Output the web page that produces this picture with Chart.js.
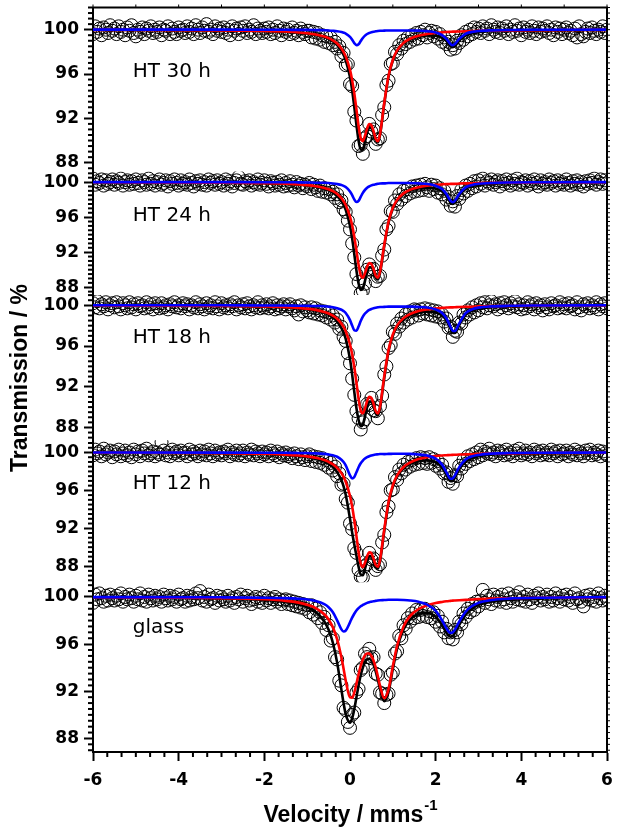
<!DOCTYPE html>
<html>
<head>
<meta charset="utf-8">
<script src="https://cdn.jsdelivr.net/npm/chart.js@4"></script>
<style>
  html, body { margin: 0; padding: 0; background: #fff; }
  #wrap { width: 619px; height: 829px; position: relative; }
</style>
</head>
<body>
<div id="wrap"><canvas id="moessbauer"></canvas></div>
<script>
// Geschwindigkeit der Messkanäle (mm/s)
const velocity = [
  -6, -5.95, -5.9, -5.85, -5.8, -5.75, -5.7, -5.65, -5.6, -5.55,
  -5.5, -5.45, -5.4, -5.35, -5.3, -5.25, -5.2, -5.15, -5.1, -5.05,
  -5, -4.95, -4.9, -4.85, -4.8, -4.75, -4.7, -4.65, -4.6, -4.55,
  -4.5, -4.45, -4.4, -4.35, -4.3, -4.25, -4.2, -4.15, -4.1, -4.05,
  -4, -3.95, -3.9, -3.85, -3.8, -3.75, -3.7, -3.65, -3.6, -3.55,
  -3.5, -3.45, -3.4, -3.35, -3.3, -3.25, -3.2, -3.15, -3.1, -3.05,
  -3, -2.95, -2.9, -2.85, -2.8, -2.75, -2.7, -2.65, -2.6, -2.55,
  -2.5, -2.45, -2.4, -2.35, -2.3, -2.25, -2.2, -2.15, -2.1, -2.05,
  -2, -1.95, -1.9, -1.85, -1.8, -1.75, -1.7, -1.65, -1.6, -1.55,
  -1.5, -1.45, -1.4, -1.35, -1.3, -1.25, -1.2, -1.15, -1.1, -1.05,
  -1, -0.95, -0.9, -0.85, -0.8, -0.75, -0.7, -0.65, -0.6, -0.55,
  -0.5, -0.45, -0.4, -0.35, -0.3, -0.25, -0.2, -0.15, -0.1, -0.05,
  0, 0.05, 0.1, 0.15, 0.2, 0.25, 0.3, 0.35, 0.4, 0.45,
  0.5, 0.55, 0.6, 0.65, 0.7, 0.75, 0.8, 0.85, 0.9, 0.95,
  1, 1.05, 1.1, 1.15, 1.2, 1.25, 1.3, 1.35, 1.4, 1.45,
  1.5, 1.55, 1.6, 1.65, 1.7, 1.75, 1.8, 1.85, 1.9, 1.95,
  2, 2.05, 2.1, 2.15, 2.2, 2.25, 2.3, 2.35, 2.4, 2.45,
  2.5, 2.55, 2.6, 2.65, 2.7, 2.75, 2.8, 2.85, 2.9, 2.95,
  3, 3.05, 3.1, 3.15, 3.2, 3.25, 3.3, 3.35, 3.4, 3.45,
  3.5, 3.55, 3.6, 3.65, 3.7, 3.75, 3.8, 3.85, 3.9, 3.95,
  4, 4.05, 4.1, 4.15, 4.2, 4.25, 4.3, 4.35, 4.4, 4.45,
  4.5, 4.55, 4.6, 4.65, 4.7, 4.75, 4.8, 4.85, 4.9, 4.95,
  5, 5.05, 5.1, 5.15, 5.2, 5.25, 5.3, 5.35, 5.4, 5.45,
  5.5, 5.55, 5.6, 5.65, 5.7, 5.75, 5.8, 5.85, 5.9, 5.95,
  6
];

// Messpunkte (Transmission in %)
const transHT30 = [
  99.6, 100.3, 99.8, 100.1, 99.5, 100.2, 100.0, 99.7, 100.4, 99.9,
  100.1, 99.6, 100.3, 99.8, 100.0, 99.5, 100.2, 99.9, 100.4, 99.7,
  99.4, 100.0, 99.8, 100.2, 99.6, 100.1, 99.9, 100.3, 99.7, 100.0,
  99.8, 100.2, 99.5, 100.0, 99.9, 100.3, 99.6, 100.1, 99.8, 99.6,
  100.2, 99.9, 100.0, 99.7, 100.3, 99.8, 100.1, 99.6, 100.4, 100.0,
  99.7, 100.2, 99.9, 100.5, 99.8, 100.0, 99.6, 100.3, 99.9, 100.1,
  99.8, 100.2, 99.7, 100.0, 99.5, 100.3, 99.9, 100.1, 99.6, 100.2,
  99.9, 100.3, 99.7, 100.0, 99.8, 100.4, 99.6, 100.1, 99.9, 99.7,
  100.1, 99.8, 100.2, 99.6, 100.0, 99.7, 100.3, 99.9, 99.5, 100.1,
  99.8, 100.0, 99.6, 100.2, 99.7, 99.9, 99.5, 100.1, 99.8, 99.6,
  99.9,
  99.9, 99.3, 99.8, 99.2, 99.7, 99.1, 99.5, 98.9, 99.4, 98.8,
  99.3, 98.6, 98.9, 98.3, 98.5, 97.6, 97.9, 96.8, 96.9, 95.1,
  94.9, 92.6, 91.8, 89.5, 89.6, 88.8, 90.2, 90.4, 91.5, 90.8,
  91.0, 89.7, 90.1, 90.2, 92.3, 93.0, 95.0, 95.4, 96.9, 97.0,
  98.0, 97.8, 98.6, 98.3, 99.0, 98.7, 99.3, 98.9, 99.5, 99.1,
  99.7, 99.2, 99.8, 99.5, 100.0, 99.3, 99.7, 99.9, 99.4, 99.8,
  99.2, 99.6, 98.9, 99.3, 98.7, 98.9, 98.2, 98.6, 98.3, 99.0,
  98.8, 99.5, 99.1, 99.8, 99.4, 100.0, 99.6, 100.2, 99.8, 100.1,
  99.7, 100.3, 99.9, 100.1, 99.6, 100.4, 100.0, 99.8, 100.2, 99.7,
  100.1, 99.9, 100.3, 99.6, 100.0, 99.8, 100.4, 99.9, 100.1, 99.5,
  100.2, 99.8, 100.0, 99.7, 100.3, 99.9, 99.6, 100.2, 99.8, 100.1,
  99.9, 100.3, 99.7, 100.0, 99.5, 100.2, 99.8, 100.1, 99.6, 100.0,
  100.2, 99.7, 99.9, 99.5, 100.1, 99.3, 100.3, 99.6, 99.4, 99.8,
  100.1, 99.7, 100.2, 99.9, 99.6, 100.0, 99.8, 100.3, 99.7, 100.0
];
const transHT24 = [
  100.4, 99.7, 100.1, 99.9, 100.3, 99.6, 100.2, 99.8, 100.0, 100.3,
  99.7, 100.1, 99.9, 100.4, 99.6, 100.0, 100.2, 99.7, 100.1, 99.8,
  100.3, 99.9, 99.6, 100.2, 100.0, 99.7, 100.4, 99.8, 100.1, 99.6,
  100.0, 100.3, 99.7, 99.9, 100.2, 99.5, 100.1, 99.8, 100.3, 99.9,
  99.6, 100.2, 99.8, 100.0, 99.7, 100.3, 99.9, 99.5, 100.1, 99.8,
  100.2, 99.7, 100.0, 99.6, 100.3, 99.9, 100.1, 99.7, 100.2, 99.8,
  100.0, 99.6, 100.3, 99.8, 100.1, 99.5, 99.9, 100.2, 100.6, 99.8,
  99.7, 100.1, 99.9, 100.2, 99.6, 100.0, 99.8, 100.3, 99.7, 99.9,
  100.2, 99.8, 99.5, 100.1, 99.9, 99.6, 100.0, 99.7, 100.2, 99.5,
  99.9, 99.6, 100.1, 99.7, 99.4, 100.0, 99.6, 99.8, 99.3, 99.7,
  99.5,
  99.9, 99.2, 99.7, 99.4, 99.0, 99.6, 98.9, 99.3, 98.8, 99.2,
  98.6, 98.9, 98.2, 98.6, 97.7, 97.9, 96.9, 96.6, 95.6, 94.6,
  93.0, 91.4, 89.5, 88.6, 87.3, 87.6, 88.4, 90.0, 90.6, 90.0,
  90.1, 88.7, 89.2, 89.3, 91.6, 92.3, 94.6, 95.0, 96.7, 96.6,
  97.9, 97.5, 98.6, 98.0, 99.0, 98.4, 99.2, 98.7, 99.5, 98.9,
  99.6, 99.0, 99.7, 99.1, 99.8, 99.4, 99.0, 99.7, 99.2, 99.6,
  98.8, 99.3, 98.6, 99.0, 98.0, 98.3, 97.3, 97.8, 97.2, 98.4,
  98.1, 99.1, 98.7, 99.6, 99.0, 99.8, 99.3, 100.1, 99.5, 100.2,
  99.8, 100.4, 99.6, 100.1, 99.9, 100.3, 99.7, 100.0, 100.2, 99.5,
  100.1, 99.8, 100.3, 99.9, 99.6, 100.2, 99.8, 100.4, 99.7, 100.0,
  99.9, 100.2, 99.6, 100.1, 99.8, 100.3, 99.9, 99.5, 100.2, 99.8,
  100.0, 99.7, 100.3, 99.9, 100.1, 99.6, 100.2, 99.8, 100.0, 99.7,
  100.3, 99.9, 99.6, 100.1, 99.8, 100.2, 99.7, 100.0, 99.5, 100.1,
  99.8, 100.2, 99.9, 100.4, 99.7, 100.0, 100.3, 99.8, 100.2, 99.9
];
const transHT18 = [
  100.2, 99.8, 100.4, 99.7, 100.1, 99.9, 100.3, 99.6, 100.0, 100.2,
  99.8, 100.3, 99.9, 99.6, 100.2, 100.0, 99.7, 100.3, 99.8, 100.1,
  99.6, 100.2, 99.9, 100.0, 99.7, 100.3, 99.8, 100.1, 99.6, 100.2,
  99.9, 99.7, 100.2, 99.8, 100.0, 99.6, 100.1, 99.9, 100.3, 99.8,
  100.0, 99.7, 100.2, 99.9, 100.1, 99.6, 100.0, 99.8, 100.3, 99.7,
  100.1, 99.9, 99.6, 100.2, 99.8, 100.0, 99.7, 100.3, 99.9, 99.6,
  100.2, 99.8, 100.0, 99.7, 100.1, 99.9, 100.3, 99.6, 100.0, 99.8,
  100.1, 99.7, 100.2, 99.9, 99.6, 100.0, 99.8, 100.3, 99.7, 100.0,
  99.8, 100.1, 99.7, 99.9, 100.2, 99.6, 100.0, 99.7, 99.9, 100.1,
  99.6, 99.9, 100.1, 99.7, 99.5, 99.9, 99.1, 100.0, 99.4, 99.8,
  99.5,
  99.3, 99.8, 99.2, 99.7, 99.1, 99.5, 99.0, 99.4, 98.8, 99.3,
  98.6, 99.0, 98.3, 98.6, 97.7, 97.9, 96.9, 96.5, 95.3, 94.3,
  92.8, 91.2, 89.6, 88.9, 87.8, 88.5, 88.8, 90.3, 90.2, 90.9,
  89.7, 89.6, 88.9, 90.1, 91.1, 93.2, 94.0, 95.8, 96.1, 97.4,
  97.2, 98.2, 97.9, 98.7, 98.3, 99.1, 98.6, 99.4, 98.8, 99.6,
  99.5, 99.0, 99.6, 99.2, 99.7, 99.1, 99.6, 99.0, 99.5, 98.9,
  99.4, 98.8, 99.1, 98.4, 98.7, 97.8, 97.9, 96.9, 97.5, 97.4,
  98.3, 98.2, 99.1, 98.8, 99.5, 99.1, 99.8, 99.3, 100.0, 99.5,
  100.2, 99.8, 100.3, 99.7, 100.0, 100.4, 99.9, 100.1, 99.6, 100.2,
  99.8, 100.3, 100.0, 99.7, 100.2, 99.9, 100.4, 99.8, 100.1, 99.6,
  100.0, 99.7, 100.3, 99.9, 100.1, 99.6, 100.2, 99.8, 100.0, 99.5,
  100.1, 99.8, 99.6, 100.2, 99.9, 100.0, 99.7, 100.3, 99.8, 100.1,
  99.7, 100.2, 99.9, 100.0, 99.6, 100.3, 99.8, 99.5, 100.1, 99.9,
  100.2, 99.7, 100.0, 99.8, 100.3, 99.6, 100.1, 99.9, 100.2, 99.7
];
const transHT12 = [
  99.7, 100.3, 99.9, 100.1, 99.6, 100.4, 99.8, 100.0, 100.2, 99.5,
  100.1, 99.8, 100.3, 99.6, 99.9, 100.2, 99.7, 100.0, 99.5, 100.3,
  99.8, 100.1, 99.6, 100.2, 99.9, 100.4, 99.7, 99.9, 100.1, 99.6,
  100.0, 99.8, 101.1, 100.2, 99.7, 100.0, 99.6, 100.3, 99.9, 100.1,
  99.7, 100.2, 99.9, 100.0, 99.6, 100.3, 99.8, 100.1, 99.9, 99.6,
  100.2, 99.8, 100.1, 99.7, 100.3, 99.9, 99.6, 100.2, 99.8, 100.0,
  99.7, 100.1, 99.9, 100.3, 99.6, 100.0, 99.8, 100.2, 99.7, 99.9,
  100.2, 99.6, 100.0, 99.8, 100.3, 99.7, 100.1, 99.9, 99.6, 100.1,
  99.8, 100.0, 99.6, 100.2, 99.9, 99.7, 100.1, 99.5, 99.9, 99.7,
  100.0, 99.6, 99.8, 99.4, 99.9, 99.6, 99.3, 99.8, 99.5, 99.2,
  99.6,
  99.8, 99.1, 99.6, 99.0, 99.5, 98.9, 99.4, 98.7, 99.2, 98.4,
  98.9, 98.1, 98.5, 97.5, 97.8, 96.6, 96.7, 95.1, 94.7, 92.5,
  91.9, 89.9, 89.4, 87.6, 86.9, 86.8, 88.0, 88.2, 89.4, 88.7,
  88.8, 87.6, 88.0, 88.2, 90.5, 91.3, 93.7, 94.3, 96.0, 96.1,
  97.4, 97.1, 98.2, 97.8, 98.7, 98.2, 99.0, 98.5, 99.2, 98.7,
  99.4, 98.8, 99.5, 98.9, 99.4, 98.8, 99.5, 98.9, 99.3, 98.6,
  99.1, 98.3, 98.7, 97.8, 97.9, 96.9, 97.3, 96.7, 97.6, 97.5,
  98.6, 98.3, 99.2, 98.8, 99.6, 99.1, 99.8, 99.3, 100.0, 99.5,
  100.3, 99.7, 100.1, 99.9, 100.4, 99.8, 100.0, 99.6, 100.2, 99.9,
  100.1, 99.7, 100.3, 99.8, 100.0, 99.6, 100.2, 99.9, 100.4, 99.7,
  99.9, 100.2, 99.8, 100.0, 99.6, 100.3, 99.9, 100.1, 99.7, 100.2,
  99.8, 100.0, 99.7, 100.3, 99.9, 100.1, 99.6, 100.2, 99.8, 99.9,
  100.2, 99.6, 100.0, 99.8, 100.3, 99.7, 100.1, 99.9, 99.6, 100.2,
  99.9, 100.3, 99.7, 100.0, 99.8, 100.2, 99.6, 100.1, 99.9, 99.7
];
const transGlass = [
  99.5, 100.2, 99.8, 100.3, 99.9, 99.6, 100.1, 99.7, 100.2, 99.9,
  99.7, 100.1, 99.8, 100.3, 99.6, 100.0, 99.8, 100.2, 99.9, 99.6,
  100.1, 99.8, 100.3, 99.7, 100.0, 99.6, 100.2, 99.9, 99.7, 100.1,
  99.8, 100.0, 99.6, 100.2, 99.9, 99.7, 100.1, 99.8, 100.0, 99.6,
  100.2, 99.8, 99.9, 99.6, 100.1, 99.7, 100.0, 99.8, 100.3, 99.9,
  100.5, 99.7, 100.0, 99.6, 100.2, 99.8, 99.9, 99.5, 100.1, 99.7,
  100.0, 99.8, 99.6, 100.1, 99.7, 99.9, 99.5, 100.0, 99.8, 100.2,
  99.6, 99.9, 100.1, 99.7, 99.4, 99.8, 100.0, 99.6, 99.9, 99.5,
  100.1, 99.7, 99.9, 99.5, 99.8, 100.0, 99.6, 99.8, 99.4, 99.7,
  99.8, 99.4, 99.7, 99.3, 99.6, 99.2, 99.5, 99.1, 99.4, 99.0,
  99.3,
  98.7, 99.3, 98.5, 99.0, 98.2, 98.7, 97.8, 98.3, 97.2, 97.6,
  96.3, 96.5, 94.9, 94.7, 92.9, 92.5, 90.6, 90.4, 89.4, 88.9,
  90.0, 90.2, 91.9, 92.2, 93.8, 94.0, 95.2, 94.9, 95.6, 94.8,
  94.9, 93.5, 93.4, 91.9, 91.8, 91.0, 91.7, 91.8, 93.4, 93.6,
  95.2, 95.4, 96.7, 96.5, 97.6, 97.3, 98.2, 97.9, 98.6, 98.2,
  98.9, 98.3, 98.9, 98.4, 99.0, 98.3, 98.8, 98.2, 98.7, 97.9,
  98.4, 97.5, 97.9, 97.0, 97.3, 96.5, 97.0, 96.4, 97.2, 97.0,
  97.9, 97.7, 98.6, 98.3, 99.0, 98.7, 99.4, 98.9, 99.6, 99.2,
  99.7, 100.6, 99.5, 100.1, 99.8, 99.4, 100.2, 99.7, 100.0, 99.6,
  100.2, 99.8, 99.5, 100.3, 99.9, 99.6, 100.1, 99.8, 100.4, 99.7,
  100.0, 99.6, 100.2, 99.8, 99.5, 100.1, 99.9, 100.3, 99.7, 100.0,
  99.8, 100.2, 99.6, 100.0, 99.7, 100.3, 99.9, 99.6, 100.1, 99.8,
  100.2, 99.7, 100.0, 99.5, 100.3, 99.8, 99.9, 99.6, 99.2, 100.1,
  99.8, 100.2, 99.7, 100.0, 99.6, 100.3, 99.9, 99.7, 100.1, 99.8
];

// Fitkurven (Stützstellen)
const fitVelocity = [-6, -3, -2, -1.5, -1.2, -1, -0.8, -0.6, -0.5, -0.4, -0.3, -0.2, -0.15, -0.1, 0, 0.05, 0.1, 0.15, 0.2, 0.25, 0.3, 0.35, 0.4, 0.45, 0.5, 0.55, 0.6, 0.65, 0.7, 0.8, 0.9, 1, 1.1, 1.25, 1.4, 1.6, 1.8, 2, 2.15, 2.25, 2.35, 2.4, 2.45, 2.55, 2.7, 2.85, 3, 3.3, 3.7, 4.5, 6];

const fitTotalHT30 = [99.98, 99.94, 99.88, 99.82, 99.73, 99.66, 99.53, 99.33, 99.17, 98.94, 98.61, 98.09, 97.72, 97.24, 95.72, 94.54, 93.05, 91.42, 90.00, 89.18, 89.20, 89.89, 90.71, 91.19, 91.15, 90.66, 90.02, 89.82, 90.47, 93.32, 95.78, 97.22, 98.06, 98.74, 99.11, 99.37, 99.48, 99.46, 99.27, 98.96, 98.50, 98.42, 98.52, 99.01, 99.49, 99.67, 99.78, 99.86, 99.9, 99.94, 99.98];
const fitRedHT30 = [99.98, 99.94, 99.89, 99.83, 99.75, 99.68, 99.57, 99.38, 99.24, 99.04, 98.75, 98.30, 97.99, 97.59, 96.37, 95.45, 94.26, 92.81, 91.31, 90.21, 89.95, 90.43, 91.10, 91.49, 91.38, 90.84, 90.17, 89.94, 90.57, 93.41, 95.85, 97.29, 98.13, 98.81, 99.18, 99.46, 99.61, 99.71, 99.76, 99.79, 99.81, 99.82, 99.82, 99.84, 99.86, 99.87, 99.90, 99.92, 99.93, 99.95, 99.98];
const fitBlueHT30 = [100, 100, 99.99, 99.99, 99.98, 99.98, 99.96, 99.95, 99.93, 99.9, 99.86, 99.79, 99.73, 99.65, 99.35, 99.09, 98.79, 98.61, 98.69, 98.97, 99.25, 99.46, 99.61, 99.70, 99.77, 99.82, 99.85, 99.88, 99.9, 99.91, 99.93, 99.93, 99.93, 99.93, 99.93, 99.91, 99.87, 99.75, 99.51, 99.17, 98.69, 98.6, 98.7, 99.17, 99.63, 99.8, 99.88, 99.94, 99.97, 99.99, 100];

const fitTotalHT24 = [99.98, 99.93, 99.86, 99.80, 99.70, 99.61, 99.46, 99.25, 99.07, 98.80, 98.41, 97.82, 97.38, 96.82, 94.99, 93.57, 91.79, 89.92, 88.42, 87.69, 87.87, 88.73, 89.70, 90.28, 90.27, 89.76, 89.08, 88.88, 89.61, 92.70, 95.39, 96.95, 97.86, 98.60, 99.00, 99.26, 99.37, 99.28, 98.94, 98.41, 97.64, 97.50, 97.67, 98.47, 99.24, 99.53, 99.69, 99.81, 99.87, 99.93, 99.98];
const fitRedHT24 = [99.98, 99.93, 99.88, 99.82, 99.73, 99.65, 99.53, 99.33, 99.18, 98.96, 98.64, 98.16, 97.82, 97.39, 96.06, 95.06, 93.77, 92.20, 90.57, 89.38, 89.10, 89.62, 90.34, 90.77, 90.65, 90.06, 89.33, 89.08, 89.77, 92.85, 95.50, 97.06, 97.97, 98.71, 99.11, 99.41, 99.58, 99.69, 99.74, 99.77, 99.79, 99.80, 99.80, 99.83, 99.85, 99.86, 99.89, 99.91, 99.92, 99.95, 99.98];
const fitBlueHT24 = [100, 100, 99.98, 99.98, 99.97, 99.96, 99.93, 99.92, 99.89, 99.84, 99.77, 99.66, 99.56, 99.43, 98.93, 98.51, 98.02, 97.72, 97.85, 98.31, 98.77, 99.11, 99.36, 99.51, 99.62, 99.7, 99.75, 99.8, 99.84, 99.85, 99.89, 99.89, 99.89, 99.89, 99.89, 99.85, 99.79, 99.59, 99.2, 98.64, 97.85, 97.70, 97.87, 98.64, 99.39, 99.67, 99.8, 99.9, 99.95, 99.98, 100];

const fitTotalHT18 = [99.98, 99.94, 99.86, 99.80, 99.70, 99.61, 99.48, 99.26, 99.06, 98.80, 98.40, 97.76, 97.31, 96.70, 94.71, 93.21, 91.49, 89.91, 88.73, 88.11, 88.27, 89.08, 90.00, 90.55, 90.54, 90.04, 89.38, 89.18, 89.87, 92.88, 95.49, 97.01, 97.90, 98.61, 99.00, 99.27, 99.38, 99.29, 99.00, 98.51, 97.67, 97.28, 97.28, 98.06, 99.07, 99.46, 99.66, 99.81, 99.88, 99.93, 99.98];
const fitRedHT18 = [99.98, 99.94, 99.88, 99.82, 99.74, 99.66, 99.55, 99.35, 99.20, 98.99, 98.68, 98.20, 97.88, 97.46, 96.17, 95.20, 93.94, 92.41, 90.82, 89.66, 89.39, 89.89, 90.60, 91.01, 90.90, 90.33, 89.62, 89.38, 90.04, 93.04, 95.62, 97.14, 98.03, 98.74, 99.13, 99.43, 99.59, 99.69, 99.75, 99.78, 99.80, 99.80, 99.81, 99.83, 99.85, 99.86, 99.89, 99.92, 99.93, 99.95, 99.98];
const fitBlueHT18 = [100, 100, 99.98, 99.98, 99.96, 99.95, 99.93, 99.91, 99.86, 99.81, 99.72, 99.56, 99.43, 99.24, 98.54, 98.01, 97.55, 97.50, 97.91, 98.45, 98.88, 99.19, 99.40, 99.54, 99.64, 99.71, 99.76, 99.80, 99.83, 99.84, 99.87, 99.87, 99.87, 99.87, 99.87, 99.84, 99.79, 99.6, 99.25, 98.73, 97.87, 97.48, 97.47, 98.23, 99.22, 99.6, 99.77, 99.89, 99.95, 99.98, 100];

const fitTotalHT12 = [99.98, 99.92, 99.84, 99.74, 99.63, 99.53, 99.35, 99.05, 98.80, 98.46, 97.93, 97.06, 96.41, 95.54, 93.00, 91.55, 90.28, 89.10, 87.93, 87.11, 87.05, 87.72, 88.54, 89.05, 89.03, 88.52, 87.90, 87.74, 88.49, 91.71, 94.62, 96.40, 97.46, 98.34, 98.79, 99.09, 99.17, 98.97, 98.40, 97.64, 96.96, 97.01, 97.35, 98.23, 99.05, 99.41, 99.60, 99.77, 99.85, 99.91, 99.97];
const fitRedHT12 = [99.98, 99.93, 99.86, 99.77, 99.68, 99.59, 99.44, 99.20, 99.01, 98.76, 98.38, 97.82, 97.42, 96.91, 95.41, 94.29, 92.87, 91.19, 89.49, 88.25, 87.90, 88.36, 89.04, 89.45, 89.35, 88.78, 88.12, 87.93, 88.65, 91.88, 94.77, 96.54, 97.59, 98.47, 98.94, 99.30, 99.50, 99.62, 99.68, 99.71, 99.74, 99.75, 99.76, 99.78, 99.80, 99.82, 99.86, 99.89, 99.91, 99.94, 99.97];
const fitBlueHT12 = [100, 99.99, 99.98, 99.97, 99.95, 99.94, 99.91, 99.85, 99.79, 99.70, 99.55, 99.24, 98.99, 98.63, 97.59, 97.26, 97.41, 97.91, 98.44, 98.86, 99.15, 99.36, 99.50, 99.60, 99.68, 99.74, 99.78, 99.81, 99.84, 99.83, 99.85, 99.86, 99.87, 99.87, 99.85, 99.79, 99.67, 99.35, 98.72, 97.93, 97.22, 97.26, 97.59, 98.45, 99.25, 99.59, 99.74, 99.88, 99.94, 99.97, 100];

const fitTotalGlass = [99.96, 99.87, 99.74, 99.57, 99.37, 99.13, 98.72, 97.92, 97.22, 96.12, 94.43, 92.12, 90.99, 90.06, 89.33, 89.70, 90.48, 91.48, 92.49, 93.36, 94.01, 94.47, 94.71, 94.76, 94.59, 94.24, 93.69, 92.98, 92.20, 91.15, 91.94, 93.88, 95.62, 97.24, 98.07, 98.57, 98.65, 98.31, 97.60, 96.97, 96.62, 96.70, 96.93, 97.63, 98.50, 99.01, 99.33, 99.60, 99.75, 99.87, 99.96];
const fitRedGlass = [99.97, 99.90, 99.80, 99.67, 99.52, 99.34, 99.06, 98.53, 98.09, 97.42, 96.41, 94.87, 93.92, 92.91, 91.48, 91.45, 91.90, 92.63, 93.44, 94.15, 94.69, 95.05, 95.21, 95.20, 94.99, 94.60, 94.02, 93.28, 92.48, 91.41, 92.18, 94.12, 95.86, 97.50, 98.37, 98.98, 99.30, 99.49, 99.58, 99.63, 99.67, 99.69, 99.70, 99.72, 99.75, 99.78, 99.83, 99.86, 99.89, 99.93, 99.97];
const fitBlueGlass = [99.99, 99.97, 99.94, 99.90, 99.85, 99.79, 99.66, 99.39, 99.13, 98.70, 98.02, 97.25, 97.07, 97.15, 97.85, 98.25, 98.58, 98.85, 99.05, 99.21, 99.32, 99.42, 99.50, 99.56, 99.60, 99.64, 99.67, 99.70, 99.72, 99.74, 99.76, 99.76, 99.76, 99.74, 99.70, 99.59, 99.35, 98.82, 98.02, 97.34, 96.95, 97.01, 97.23, 97.91, 98.75, 99.23, 99.50, 99.74, 99.86, 99.94, 99.99];

// Panels von oben nach unten (Achsenbereich, Höhe in px, Lage der Beschriftung)
const panels = [
  { id: 'yHT30', label: 'HT 30 h', data: transHT30, total: fitTotalHT30, red: fitRedHT30, blue: fitBlueHT30, min: 87.2, max: 102, height: 164, labelY: 95.7 },
  { id: 'yHT24', label: 'HT 24 h', data: transHT24, total: fitTotalHT24, red: fitRedHT24, blue: fitBlueHT24, min: 87.1, max: 101.2, height: 123.5, labelY: 95.6 },
  { id: 'yHT18', label: 'HT 18 h', data: transHT18, total: fitTotalHT18, red: fitRedHT18, blue: fitBlueHT18, min: 86.75, max: 101, height: 145, labelY: 96.25 },
  { id: 'yHT12', label: 'HT 12 h', data: transHT12, total: fitTotalHT12, red: fitRedHT12, blue: fitBlueHT12, min: 86.3, max: 101.3, height: 142, labelY: 96.1 },
  { id: 'yGlass', label: 'glass', data: transGlass, total: fitTotalGlass, red: fitRedGlass, blue: fitBlueGlass, min: 86.85, max: 101.25, height: 169.7, labelY: 96.95 }
];
const labelX = -5.07;

const tickFont = { family: 'DejaVu Sans', size: 17, weight: 'bold' };
const titleFont = '"Liberation Sans", Arial, sans-serif';

const toPoints = (xs, ys) => xs.map((x, i) => ({ x: x, y: ys[i] }));

// Datensätze: Kreise unten, dann schwarz, rot, blau oben
const datasets = [];
panels.forEach(p => {
  datasets.push({
    data: toPoints(fitVelocity, p.blue), yAxisID: p.id, order: 1,
    borderColor: '#0000ff', borderWidth: 2.6, pointRadius: 0, cubicInterpolationMode: 'monotone'
  });
  datasets.push({
    data: toPoints(fitVelocity, p.red), yAxisID: p.id, order: 2,
    borderColor: '#ff0000', borderWidth: 2.6, pointRadius: 0, cubicInterpolationMode: 'monotone'
  });
  datasets.push({
    data: toPoints(fitVelocity, p.total), yAxisID: p.id, order: 3,
    borderColor: '#000000', borderWidth: 2.6, pointRadius: 0, cubicInterpolationMode: 'monotone'
  });
  datasets.push({
    data: toPoints(velocity, p.data), yAxisID: p.id, order: 4, showLine: false,
    pointRadius: 6.5, pointBorderWidth: 1, pointBorderColor: '#000', pointBackgroundColor: 'rgba(0,0,0,0)'
  });
});

// Achsen (Label-Überstand nicht in den Rand einrechnen)
const scales = {
  x: {
    type: 'linear', min: -6, max: 6,
    ticks: { stepSize: 2, color: '#000', font: tickFont, padding: 9, maxRotation: 0, autoSkip: false },
    grid: { drawOnChartArea: false, drawTicks: true, tickLength: 9, tickWidth: 2, tickColor: '#000' },
    border: { color: '#000', width: 2 },
    afterFit: s => { s.height = 77; s.paddingLeft = 0; s.paddingRight = 0; }
  }
};
panels.forEach((p, i) => {
  scales[p.id] = {
    type: 'linear', position: 'left', stack: 'panels', stackWeight: p.height, weight: panels.length - i,
    min: p.min, max: p.max,
    ticks: { stepSize: 4, includeBounds: false, color: '#000', font: tickFont, padding: 5, autoSkip: false },
    grid: { drawOnChartArea: false, drawTicks: true, tickLength: 9, tickWidth: 2, tickColor: '#000' },
    border: { color: '#000', width: 2 },
    afterFit: s => { s.width = 93; s.paddingTop = 0; s.paddingBottom = 0; }
  };
});

function strich(ctx, x1, y1, x2, y2) {
  ctx.beginPath();
  ctx.moveTo(x1, y1);
  ctx.lineTo(x2, y2);
  ctx.stroke();
}

// Rahmen, Neben-Ticks, Beschriftungen
const deko = {
  id: 'deko',
  afterDraw(chart) {
    const { ctx, chartArea: a, scales: sc } = chart;
    const xs = sc.x;
    ctx.save();
    ctx.strokeStyle = '#000';
    ctx.fillStyle = '#000';

    ctx.lineWidth = 2;
    ctx.beginPath();
    ctx.moveTo(a.left, a.top);
    ctx.lineTo(a.right, a.top);
    ctx.lineTo(a.right, a.bottom);
    ctx.stroke();

    for (let k = -18; k <= 18; k++) {
      const px = xs.getPixelForValue(k / 3);
      if (k % 6 !== 0) {
        ctx.lineWidth = 2;
        strich(ctx, px, a.bottom, px, a.bottom + 5);
      }
      if (k % 3 === 0) {
        ctx.lineWidth = 1;
        strich(ctx, px, a.top, px, a.top - 3);
      }
    }

    panels.forEach(p => {
      const ys = sc[p.id];
      for (let k = Math.ceil(p.min * 2); k <= Math.floor(p.max * 2); k++) {
        const v = k / 2;
        const py = ys.getPixelForValue(v);
        if (!(v % 4 === 0 && v >= 88 && v <= 100)) {
          ctx.lineWidth = 2;
          strich(ctx, a.left - 5, py, a.left, py);
        }
        ctx.lineWidth = 1;
        strich(ctx, a.right, py, a.right + 3, py);
      }
      ctx.font = '20px "DejaVu Sans"';
      ctx.textAlign = 'left';
      ctx.textBaseline = 'alphabetic';
      ctx.fillText(p.label, xs.getPixelForValue(labelX), ys.getPixelForValue(p.labelY));
    });

    // y-Titel
    ctx.save();
    ctx.translate(21, 378);
    ctx.rotate(-Math.PI / 2);
    ctx.font = 'bold 23px ' + titleFont;
    ctx.textAlign = 'center';
    ctx.textBaseline = 'middle';
    ctx.fillText('Transmission / %', 0, 0);
    ctx.restore();

    // x-Titel mit Hochzahl
    const main = 'Velocity / mms';
    const sup = '-1';
    ctx.font = 'bold 23px ' + titleFont;
    const w1 = ctx.measureText(main).width;
    ctx.font = 'bold 15px ' + titleFont;
    const w2 = ctx.measureText(sup).width;
    const x0 = (a.left + a.right) / 2 - (w1 + w2) / 2;
    ctx.textAlign = 'left';
    ctx.textBaseline = 'alphabetic';
    ctx.font = 'bold 23px ' + titleFont;
    ctx.fillText(main, x0, 822);
    ctx.font = 'bold 15px ' + titleFont;
    ctx.fillText(sup, x0 + w1 + 1, 810);

    ctx.restore();
  }
};

new Chart(document.getElementById('moessbauer'), {
  type: 'line',
  data: { datasets },
  options: {
    responsive: true,
    maintainAspectRatio: false,
    devicePixelRatio: 1,
    animation: false,
    events: [],
    layout: { padding: { top: 7.5, right: 12, left: 0, bottom: 0 } },
    plugins: { legend: { display: false }, tooltip: { enabled: false } },
    scales
  },
  plugins: [deko]
});
</script>
</body>
</html>
